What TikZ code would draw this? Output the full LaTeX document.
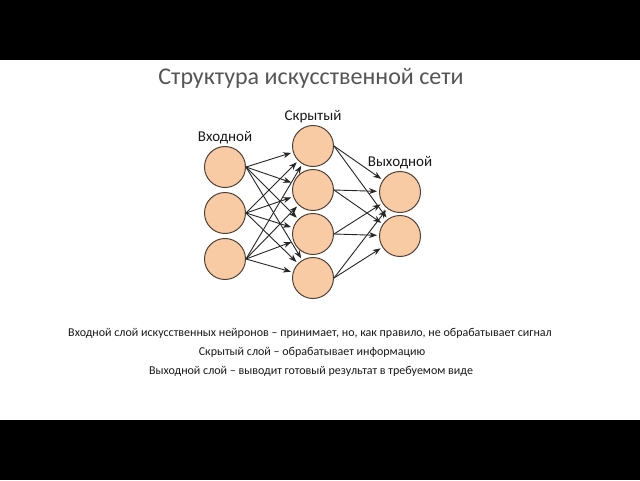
\documentclass[tikz,border=0pt]{standalone}
\usepackage{fontspec}
\setmainfont{Carlito}
\usetikzlibrary{arrows.meta,positioning}

\definecolor{neuronfill}{RGB}{248,203,165}
\definecolor{neuronline}{RGB}{80,65,55}
\definecolor{titlegray}{RGB}{85,85,85}

\begin{document}
\begin{tikzpicture}[
    x=1pt, y=-1pt,
    neuron/.style={circle, draw=neuronline, fill=neuronfill, line width=1pt, minimum size=41pt, inner sep=0pt},
    layerlabel/.style={font=\fontsize{15}{17}\selectfont, text=black!90},
    caption/.style={font=\fontsize{12}{14}\selectfont, text=black!90},
    arrow/.style={-{Stealth[length=8pt,width=6pt]}, line width=0.9pt, color=black!85, shorten >=2pt}
]
    \useasboundingbox (0,0) rectangle (640,480);
    \fill[white] (0,0) rectangle (640,480);
    \fill[black] (0,0) rectangle (640,60);
    \fill[black] (0,420) rectangle (640,480);

    % Title
    \node[font=\fontsize{24}{27}\selectfont, text=titlegray] (title) at (311,78) {Структура искусственной сети};

    % Nodes
    \node[neuron] (in1) at (225,167) {};
    \node[neuron] (in2) at (225,213) {};
    \node[neuron] (in3) at (225,259) {};

    \node[neuron] (hid1) at (313,146) {};
    \node[neuron] (hid2) at (313,190) {};
    \node[neuron] (hid3) at (313,234) {};
    \node[neuron] (hid4) at (313,278) {};

    \node[neuron] (out1) at (400,192) {};
    \node[neuron] (out2) at (400,236) {};

    % Layer labels
    \node[layerlabel, above=-1pt of in1] (inlabel) {Входной};
    \node[layerlabel, above=-1pt of hid1] (hidlabel) {Скрытый};
    \node[layerlabel, above=-1pt of out1] (outlabel) {Выходной};

    % Arrows
    \foreach \i in {1,2,3}
        \foreach \h in {1,2,3,4}
            \draw[arrow] (in\i.east) -- (hid\h);
    \foreach \h in {1,2,3,4}
        \foreach \o in {1,2}
            \draw[arrow] (hid\h.east) -- (out\o);

    % Captions
    \node[caption] (cap1) at (310,333) {Входной слой искусственных нейронов – принимает, но, как правило, не обрабатывает сигнал};
    \node[caption] (cap2) at (312,352) {Скрытый слой – обрабатывает информацию};
    \node[caption] (cap3) at (311,371) {Выходной слой – выводит готовый результат в требуемом виде};

\end{tikzpicture}
\end{document}
